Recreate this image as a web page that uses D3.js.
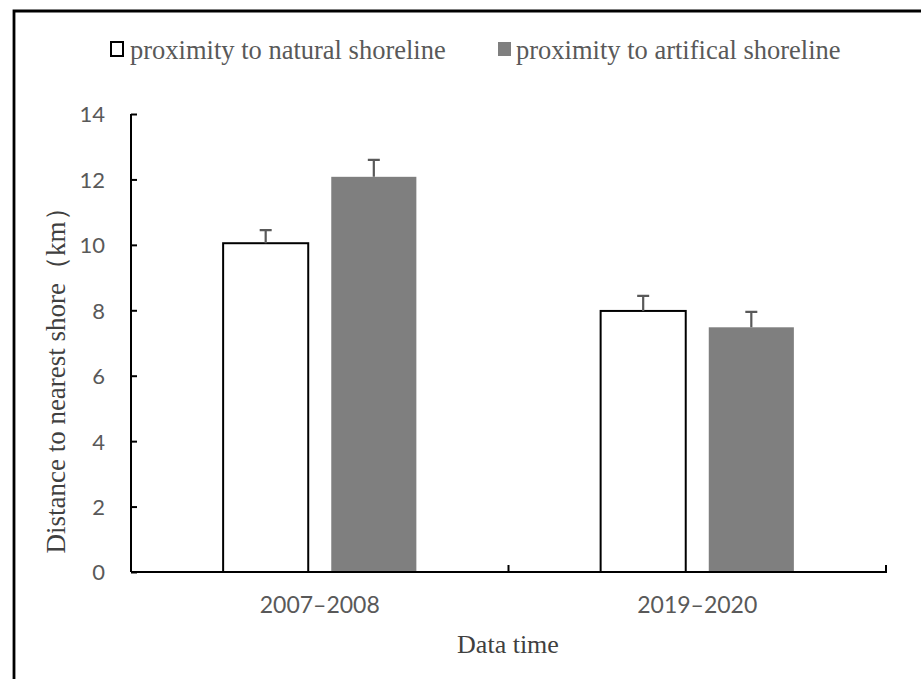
<!DOCTYPE html>
<html>
<head>
<meta charset="utf-8">
<script src="https://cdn.jsdelivr.net/npm/d3@7"></script>
<style>
    body { margin: 0; background: #fff; }
</style>
</head>
<body>
<svg id="chart" width="921" height="679"></svg>
<script>
// data
const periods = ["2007\u20132008", "2019\u20132020"];
const seriesNames = ["proximity to natural shoreline", "proximity to artifical shoreline"];
const naturalValues = [10.05, 7.98];
const artificialValues = [12.08, 7.48];
const naturalErrors = [0.4, 0.46];
const artificialErrors = [0.52, 0.47];
const yTicks = [0, 2, 4, 6, 8, 10, 12, 14];

const serif = "'Liberation Serif', 'Times New Roman', serif";
const sans = "Lato, 'Open Sans', sans-serif";
const fills = ["#ffffff", "#7f7f7f"];

let rows = [];
periods.forEach((p, i) => {
    rows.push({period: p, series: seriesNames[0], value: naturalValues[i], err: naturalErrors[i]});
    rows.push({period: p, series: seriesNames[1], value: artificialValues[i], err: artificialErrors[i]});
});

const svg = d3.select("#chart");

// frame (only top and left edges show)
svg.append("path")
    .attr("d", "M14,679V11H921")
    .attr("fill", "none")
    .attr("stroke", "#000")
    .attr("stroke-width", 2.8);

const x0 = d3.scaleBand().domain(periods).range([131, 886]).padding(0);
const x1 = d3.scaleBand().domain(seriesNames).range([0, x0.bandwidth()])
    .paddingInner(0.213).paddingOuter(0.852);
const y = d3.scaleLinear().domain([0, 14]).range([572, 114]);

// y axis
let yAxis = svg.append("g")
    .attr("transform", "translate(131,0)")
    .call(d3.axisLeft(y).tickValues(yTicks).tickSize(-6).tickPadding(26));
yAxis.select(".domain").attr("stroke", "#000").attr("stroke-width", 2).attr("d", "M0,114V572");
yAxis.selectAll(".tick line").attr("stroke", "#000").attr("stroke-width", 2);
yAxis.selectAll(".tick text")
    .attr("fill", "#595959")
    .attr("font-family", sans)
    .attr("font-size", "22px")
    .attr("dy", "0.36em");

// bars
let groups = svg.append("g")
    .selectAll("g")
    .data(rows)
    .enter()
    .append("g");

groups.append("rect")
    .attr("x", d => x0(d.period) + x1(d.series))
    .attr("y", d => y(d.value))
    .attr("width", x1.bandwidth())
    .attr("height", d => y(0) - y(d.value))
    .attr("fill", d => fills[seriesNames.indexOf(d.series)])
    .attr("stroke", d => d.series === seriesNames[0] ? "#000" : "none")
    .attr("stroke-width", 2);

// error bars
groups.append("path")
    .attr("d", d => {
        let cx = x0(d.period) + x1(d.series) + x1.bandwidth() / 2;
        let top = y(d.value + d.err);
        return "M" + cx + "," + y(d.value) + "V" + top + "M" + (cx - 6) + "," + top + "H" + (cx + 6);
    })
    .attr("fill", "none")
    .attr("stroke", "#595959")
    .attr("stroke-width", 2.2);

// x axis
let xAxis = svg.append("g")
    .attr("transform", "translate(0,572)");
xAxis.append("path")
    .attr("d", "M131,0H" + x0.range()[1])
    .attr("stroke", "#000")
    .attr("stroke-width", 2);
xAxis.selectAll(".sep")
    .data(periods)
    .enter()
    .append("line")
    .attr("class", "sep")
    .attr("x1", d => x0(d) + x0.bandwidth())
    .attr("x2", d => x0(d) + x0.bandwidth())
    .attr("y1", 1)
    .attr("y2", -7)
    .attr("stroke", "#000")
    .attr("stroke-width", 2);
xAxis.selectAll(".lbl")
    .data(periods)
    .enter()
    .append("text")
    .attr("class", "lbl")
    .attr("x", d => x0(d) + x0.bandwidth() / 2)
    .attr("y", 41)
    .attr("text-anchor", "middle")
    .attr("fill", "#595959")
    .attr("font-family", sans)
    .attr("font-size", "23px")
    .text(d => d);

// axis titles
svg.append("text")
    .attr("x", 508)
    .attr("y", 653)
    .attr("text-anchor", "middle")
    .attr("fill", "#404040")
    .attr("font-family", serif)
    .attr("font-size", "26px")
    .text("Data time");

svg.append("text")
    .attr("transform", "translate(65,374) rotate(-90)")
    .attr("text-anchor", "middle")
    .attr("fill", "#404040")
    .attr("font-family", serif)
    .attr("font-size", "27px")
    .text("Distance to nearest shore\uff08km\uff09");

// legend
const legendX = [110, 498];
let legend = svg.append("g")
    .selectAll("g")
    .data(seriesNames)
    .enter()
    .append("g")
    .attr("transform", (d, i) => "translate(" + legendX[i] + ",42)");

legend.append("rect")
    .attr("x", (d, i) => i === 0 ? 1 : 0)
    .attr("y", 0)
    .attr("width", (d, i) => i === 0 ? 12 : 13)
    .attr("height", 14)
    .attr("fill", (d, i) => fills[i])
    .attr("stroke", (d, i) => i === 0 ? "#000" : "none")
    .attr("stroke-width", 2);

legend.append("text")
    .attr("x", (d, i) => i === 0 ? 20 : 18)
    .attr("y", 17)
    .attr("fill", "#595959")
    .attr("font-family", serif)
    .attr("font-size", "26.5px")
    .text(d => d);
</script>
</body>
</html>
